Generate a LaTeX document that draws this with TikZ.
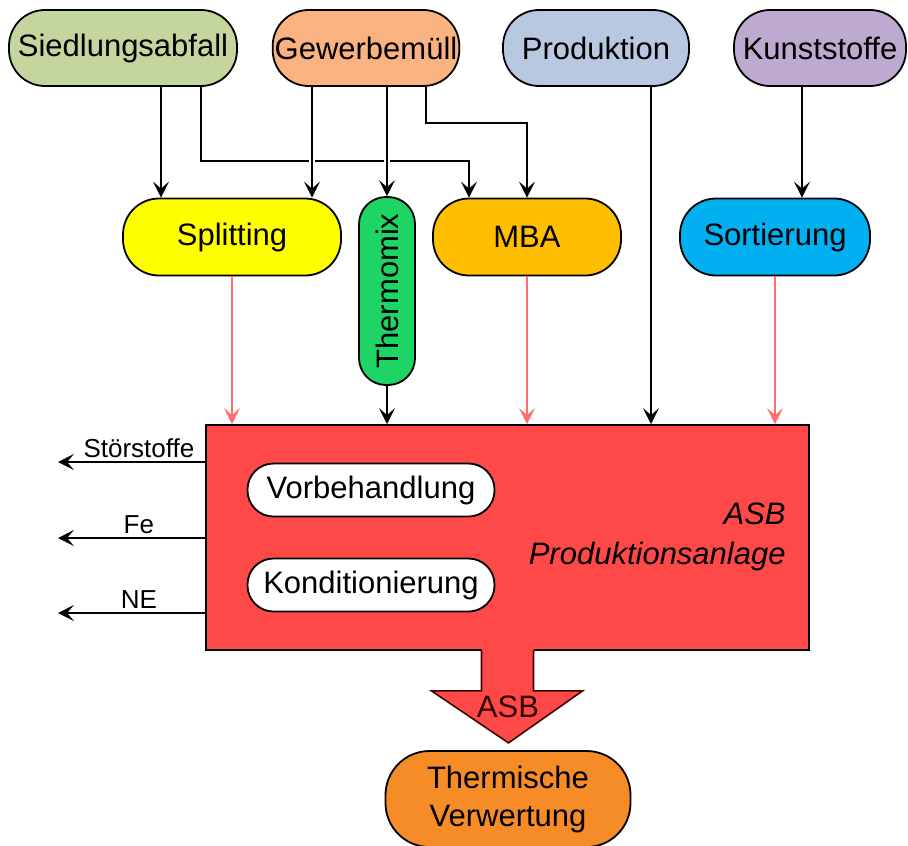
\documentclass[tikz,border=0pt]{standalone}
\usepackage{graphicx}
\usepackage{fontspec}
\setmainfont{Liberation Sans}
\usetikzlibrary{arrows.meta}

\definecolor{siedgreen}{RGB}{196,214,158}
\definecolor{gewor}{RGB}{250,178,128}
\definecolor{prodblue}{RGB}{184,200,224}
\definecolor{kunstlila}{RGB}{190,170,208}
\definecolor{splityellow}{RGB}{255,255,0}
\definecolor{thermgreen}{RGB}{30,212,100}
\definecolor{mbaorange}{RGB}{255,190,0}
\definecolor{sortblue}{RGB}{0,176,240}
\definecolor{asbred}{RGB}{255,72,72}
\definecolor{verwor}{RGB}{245,140,40}
\definecolor{redline}{RGB}{255,110,110}

\begin{document}
\begin{tikzpicture}[x=0.5pt,y=-0.5pt,
  box/.style={draw=black,line width=0.9pt,rounded corners=18pt,minimum height=38pt,inner sep=1pt,font=\fontsize{15.5}{19}\selectfont},
  inbox/.style={draw=black,fill=white,line width=0.9pt,rounded corners=13pt,minimum width=123.5pt,minimum height=26.5pt,inner sep=1pt,font=\fontsize{15.5}{19}\selectfont},
  flow/.style={line width=0.7pt,-{Stealth[length=8pt,width=8pt,inset=3.5pt]}},
  redflow/.style={flow,draw=redline},
  cross/.style={preaction={draw,white,line width=3pt,-}},
  outlbl/.style={font=\fontsize{13}{15}\selectfont,inner sep=2pt}]
\useasboundingbox (0,0) rectangle (908,845);

% Quellen
\node[box,fill=siedgreen,minimum width=114pt] (sied) at (123,48) {Siedlungsabfall};
\node[box,fill=gewor,minimum width=92pt] (gew) at (366,48) {Gewerbem\"ull};
\node[box,fill=prodblue,minimum width=93pt] (prod) at (596,48) {Produktion};
\node[box,fill=kunstlila,minimum width=86pt] (kunst) at (820,48) {Kunststoffe};

% Vorstufen
\node[box,fill=splityellow,minimum width=109pt,minimum height=38.5pt] (split) at (232,237) {Splitting};
\node[box,fill=thermgreen,minimum width=28pt,minimum height=94pt,rounded corners=13.5pt] (thermo) at (387,291) {\rotatebox{90}{Thermomix}};
\node[box,fill=mbaorange,minimum width=94pt,minimum height=38.5pt] (mba) at (527,237) {MBA};
\node[box,fill=sortblue,minimum width=95pt,minimum height=38.5pt] (sort) at (775,237) {Sortierung};

% Anlage
\node[draw=black,fill=asbred,line width=0.9pt,minimum width=301.5pt,minimum height=112.5pt] (asb) at (507.5,537.5) {};
\node[inbox] (vor) at (371,490) {Vorbehandlung};
\node[inbox] (kond) at (371,585) {Konditionierung};
\node[anchor=east,align=right,inner sep=0pt,font=\fontsize{15.5}{20}\selectfont\itshape] (asbtext) at (786,537) {ASB\\Produktionsanlage};

% grosser Pfeil
\fill[asbred] ([xshift=-13pt,yshift=1pt]asb.south) -- ++(52,0) -- ++(0,42) -- ++(49,0) -- ++(-74,52) -- ++(-77,-52) -- ++(50,0) -- cycle;
\draw[black!75!red,line width=0.8pt,line join=miter] ([xshift=-13pt]asb.south) -- ++(0,40) -- ++(-50,0) -- ++(77,52) -- ++(74,-52) -- ++(-49,0) -- ++(0,-40);
\node[font=\fontsize{15.5}{19}\selectfont,inner sep=0pt,text=black!80!red] (asblbl) at (508,707) {ASB};
\node[box,fill=verwor,minimum width=122.5pt,minimum height=48pt,rounded corners=22pt,align=center] (therm) at (508,799) {Thermische\\Verwertung};

% Zufluesse
\draw[flow] (sied.south -| 201,0) -- (201,161) -| (mba.north -| 469,0);
\draw[flow] (gew.south -| 426,0) -- (426,123) -| (mba.north);
\draw[flow] (sied.south -| 161,0) -- (split.north -| 161,0);
\draw[flow,cross] (gew.south -| 312,0) -- (split.north -| 312,0);
\draw[flow,cross] (gew.south -| thermo.north) -- (thermo.north);
\draw[flow] (prod.south -| 651,0) -- (asb.north -| 651,0);
\draw[flow] (kunst.south -| 802,0) -- (sort.north -| 802,0);
\draw[redflow] (split.south) -- (asb.north -| split.south);
\draw[flow] (thermo.south) -- (asb.north -| thermo.south);
\draw[redflow] (mba.south) -- (asb.north -| mba.south);
\draw[redflow] (sort.south) -- (asb.north -| sort.south);

% Abgaenge
\coordinate (stoer) at (58,462);
\coordinate (fe) at (58,538);
\coordinate (ne) at (58,613);
\draw[flow] (asb.west |- stoer) -- (stoer) node[outlbl,pos=0.45,above] {St\"orstoffe};
\draw[flow] (asb.west |- fe) -- (fe) node[outlbl,pos=0.45,above] {Fe};
\draw[flow] (asb.west |- ne) -- (ne) node[outlbl,pos=0.45,above] {NE};

\end{tikzpicture}
\end{document}
